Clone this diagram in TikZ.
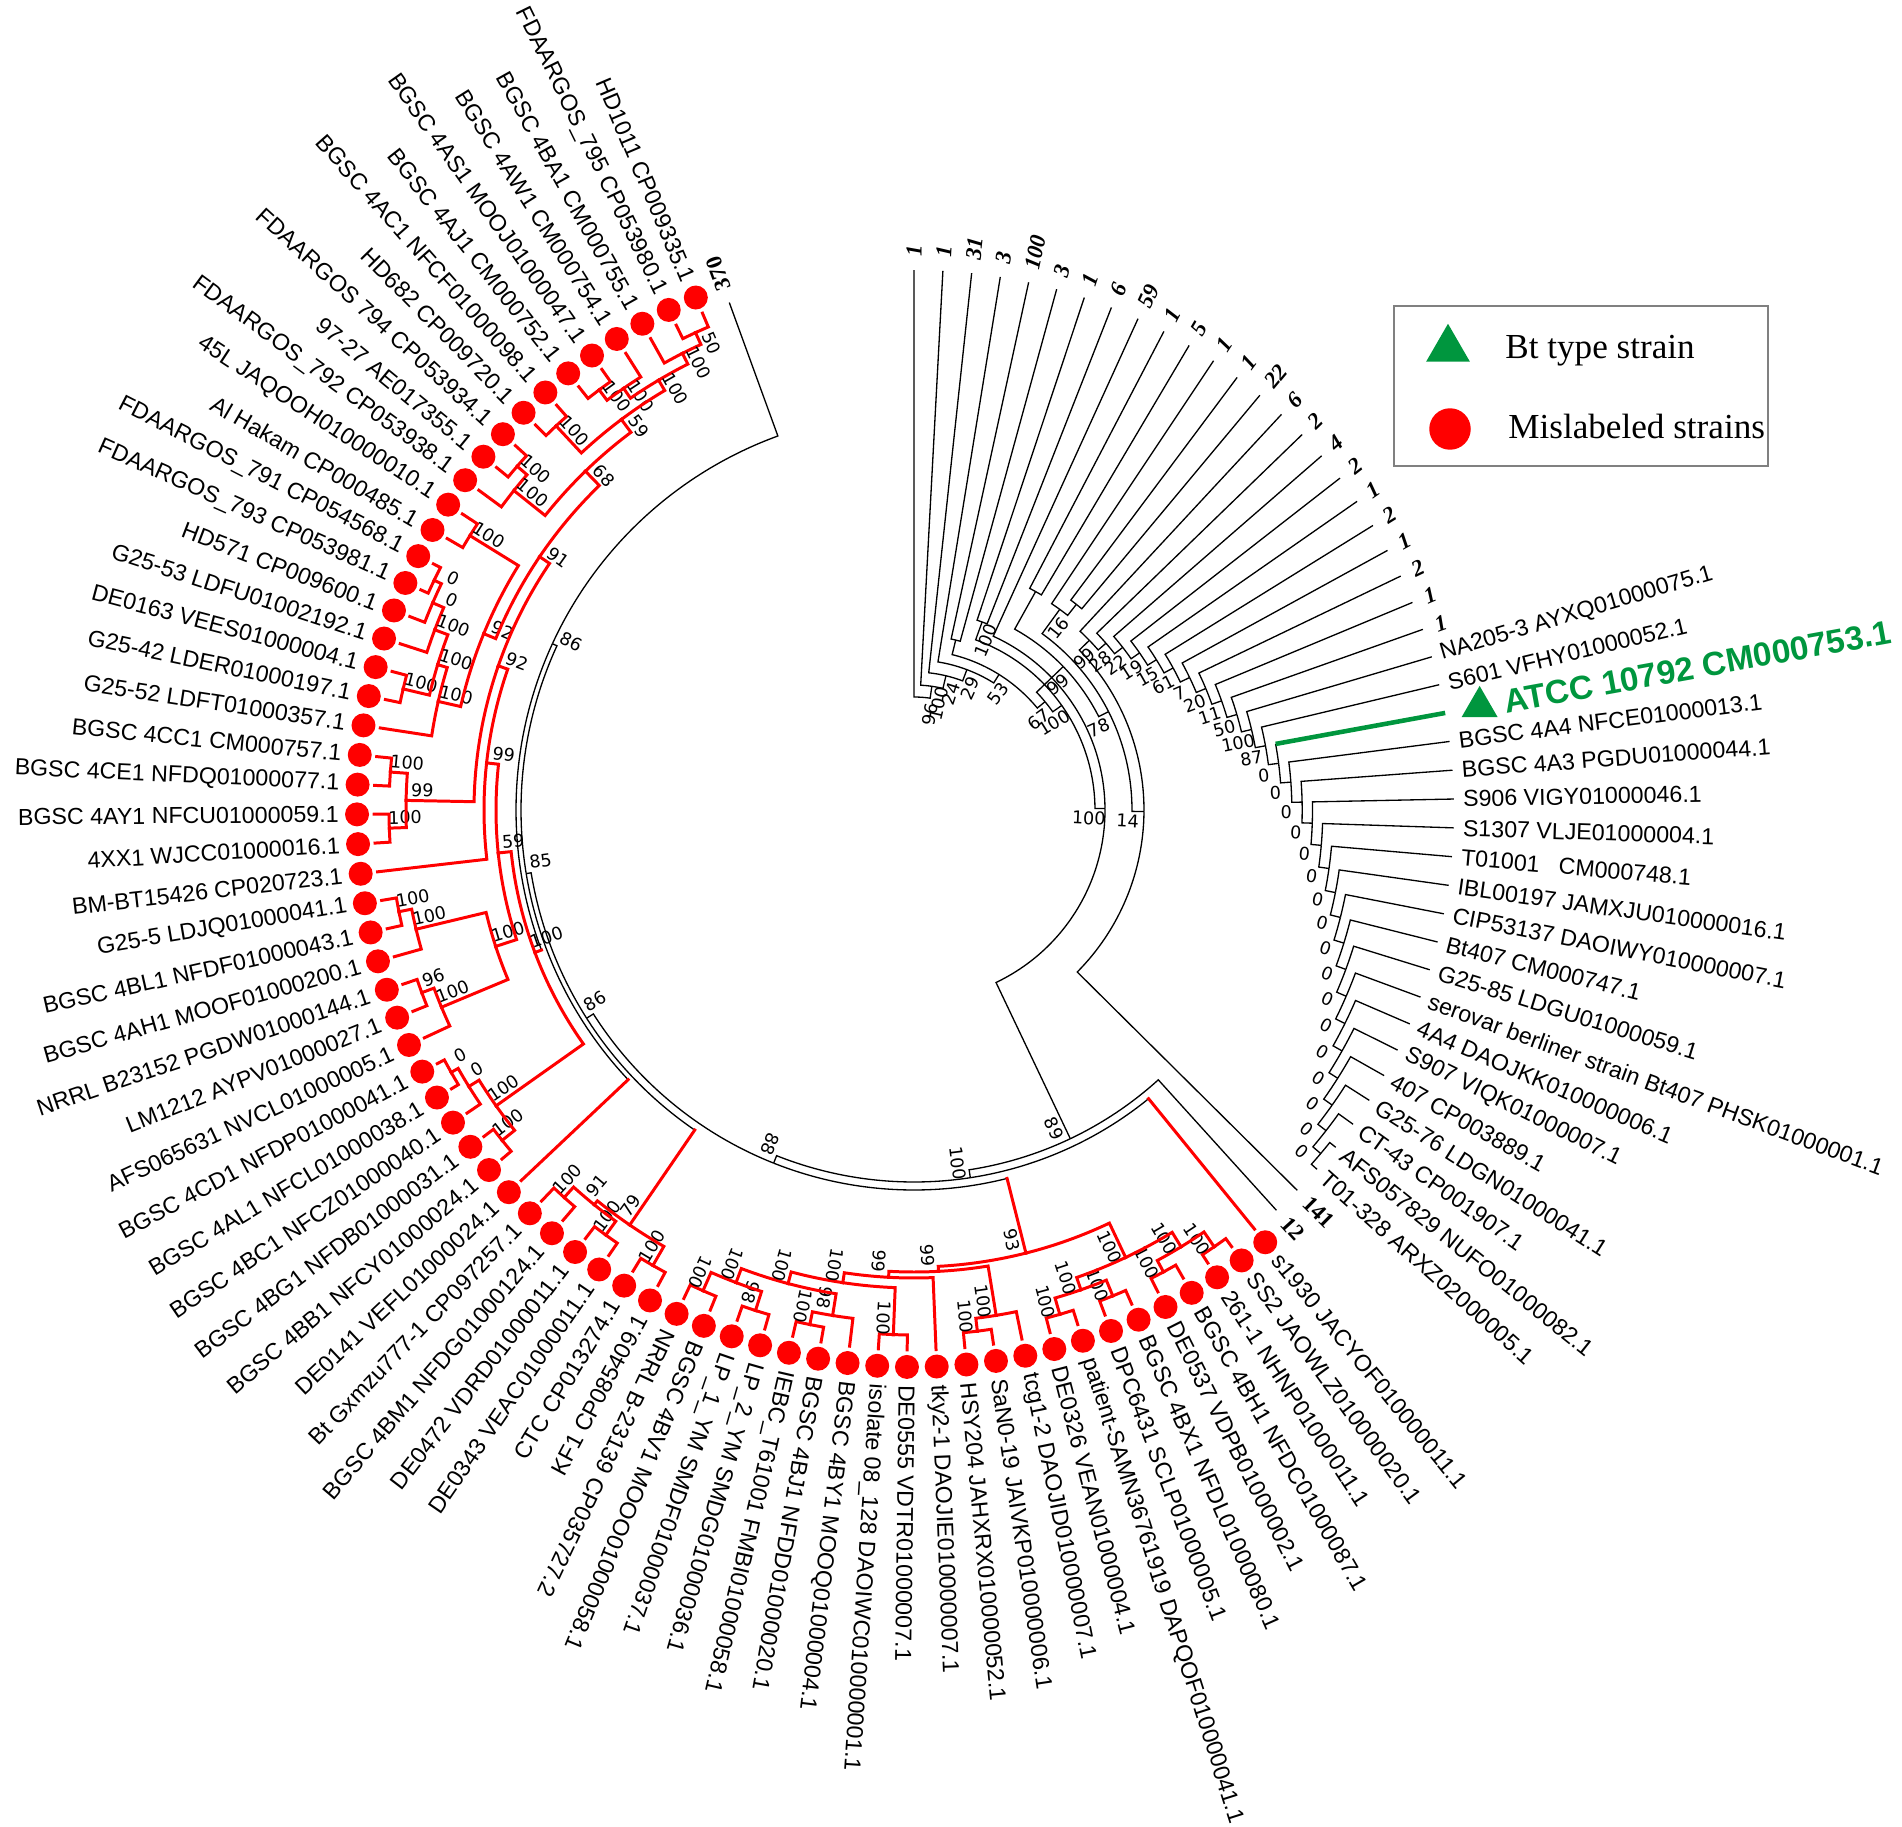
\documentclass[tikz,border=0pt]{standalone}
\usepackage{fontspec}
\setmainfont{Liberation Sans}
\newfontfamily\numfont{Liberation Serif}
\newfontfamily\bootfont{DejaVu Sans}
\usetikzlibrary{shapes.geometric}
\definecolor{typegreen}{RGB}{0,150,62}
\definecolor{misred}{RGB}{255,0,0}
\def\slot#1{110+3.063*(#1)}
\newcount\bsn
\newcommand\setrot[1]{\def\an{west}\pgfmathsetmacro\rt{#1}%
  \ifdim#1pt>90pt\relax\ifdim#1pt<243.3pt\relax\pgfmathsetmacro\rt{#1-180}\def\an{east}\fi\fi}
\newcommand\br[5][kb]{\draw[#1] ({\slot{#2}}:#3) arc[start angle={\slot{#2}},end angle={\slot{#4}},radius=#3] -- ({\slot{#4}}:#5);}
\newcommand\brx[6][kb]{\draw[#1] ({\slot{#3}}:#4) arc[start angle={\slot{#3}},end angle={\slot{#5}},radius=#4];
  \draw[#2] ({\slot{#5}}:#4) -- ({\slot{#5}}:#6);}
\newcommand\bs[3]{\global\advance\bsn by 1\relax\edef\bsname{bs\the\bsn}%
  \pgfmathsetmacro\bb{\slot{#1}-600/(#2)}\pgfmathsetmacro\bm{mod(\bb,360)}\setrot{\bm}%
  \node[bsl,rotate=\rt] (\bsname) at ({\bb}:{#2-16}) {#3};}
\newcommand\nd[8][rb]{\br[#1]{#2}{#3}{#4}{#5}\br[#1]{#2}{#3}{#6}{#7}\bs{#2}{#3}{#8}}

\begin{document}
\begin{tikzpicture}[x=0.02cm,y=0.02cm,
  kb/.style={black,line width=0.75pt},
  rb/.style={misred,line width=1.7pt,line cap=rect},
  gb/.style={typegreen,line width=2.6pt},
  lab/.style={font=\fontsize{13.2}{15}\selectfont,inner sep=0pt},
  bsl/.style={font=\bootfont\fontsize{10}{11}\selectfont,inner sep=0pt},
  cnt/.style={font=\numfont\bfseries\itshape\fontsize{13}{14}\selectfont,inner sep=0pt},
  rdot/.style={circle,fill=misred,minimum size=0.48cm,inner sep=0pt}]
\useasboundingbox (-914,-1016) rectangle (988,810);

% inner black part
\nd[kb]{109.66}{113}{111}{540}{108.32}{125}{96}
\nd[kb]{108.32}{125}{110}{540}{106.63}{138}{100}
\nd[kb]{106.63}{138}{109}{540}{104.26}{150}{24}
\nd[kb]{104.26}{150}{108}{540}{100.52}{160}{29}
\nd[kb]{100.52}{160}{94.54}{170}{106.5}{175}{53}
\nd[kb]{106.5}{175}{106}{540}{107}{540}{}
\nd[kb]{94.54}{170}{93.14}{181}{95.94}{207}{67}
\nd[kb]{93.14}{181}{81.77}{191}{104.5}{200}{100}
\nd[kb]{104.5}{200}{104}{540}{105}{540}{100}
\nd[kb]{81.77}{191}{60.54}{364}{103}{540}{100}
\nd[kb]{95.94}{207}{90.375}{218}{101.5}{250}{99}
\nd[kb]{101.5}{250}{101}{540}{102}{540}{}
\nd[kb]{90.375}{218}{81.5}{230}{99.25}{248}{78}
\nd[kb]{99.25}{248}{98.5}{262}{100}{540}{16}
\nd[kb]{98.5}{262}{98}{540}{99}{540}{}
\nd[kb]{81.5}{230}{67}{540}{96}{244}{14}

% ladder of the Bt strains
\xdef\pk{68.5}
\br{68.5}{532.4}{68}{540}
\br{68.5}{532.4}{69}{540}
\foreach \j in {70,...,97} {
  \pgfmathsetmacro\nk{(\j+\pk)/2}
  \pgfmathsetmacro\nr{244+10.3*(97-\j)}
  \pgfmathsetmacro\cr{\nr+10.3}
  \br{\nk}{\nr}{\pk}{\cr}
  \ifnum\j=85 \brx{gb}{\nk}{\nr}{\j}{540}\else\br{\nk}{\nr}{\j}{540}\fi
  \xdef\pk{\nk}
}
\foreach \j/\t in {69/0,70/0,71/0,72/0,73/0,74/0,75/0,76/0,77/0,78/0,79/0,80/0,81/0,
    82/0,83/0,84/0,85/0,86/87,87/100,88/50,89/11,90/20,91/7,92/61,93/15,94/19,95/22,96/28,97/99} {
  \pgfmathsetmacro\nk{\j-1+pow(2,68-\j)}
  \pgfmathsetmacro\nr{244+10.3*(97-\j)}
  \bs{\nk}{\nr}{\t}
}

% backbone down to the mislabeled clade
\br{14.79}{398}{0}{540}
\brx{rb}{14.79}{398}{29.58}{405}
\bs{14.79}{398}{86}
\br{25.895}{393}{14.79}{398}
\brx{rb}{25.895}{393}{37}{540}
\bs{25.895}{393}{85}
\br{33.45}{388}{25.895}{393}
\brx{rb}{33.45}{388}{41}{503}
\bs{33.45}{388}{86}
\br{45.16}{380}{33.45}{388}
\brx{rb}{45.16}{380}{56.865}{457}
\bs{45.16}{380}{88}
\br{55.08}{372}{45.16}{380}
\brx{rb}{55.08}{372}{65}{540}
\bs{55.08}{372}{100}
\br{60.54}{364}{55.08}{372}
\br{60.54}{364}{66}{540}
\bs{60.54}{364}{89}

% mislabeled clade
\nd{1.5}{525}{1}{540}{2}{540}{50}
\nd{2.25}{512}{1.5}{525}{3}{540}{100}
\nd{5.5}{525}{5}{540}{6}{540}{100}
\nd{4.75}{512}{4}{540}{5.5}{525}{100}
\nd{3.5}{500}{2.25}{512}{4.75}{512}{100}
\nd{7.5}{525}{7}{540}{8}{540}{100}
\nd{5.5}{488}{3.5}{500}{7.5}{525}{59}
\nd{9.5}{525}{9}{540}{10}{540}{100}
\nd{10.25}{512}{9.5}{525}{11}{540}{100}
\nd{7.875}{472}{5.5}{488}{10.25}{512}{68}
\nd{12.5}{522}{12}{540}{13}{540}{100}
\nd{14.5}{532}{14}{540}{15}{540}{0}
\nd{15.25}{524}{14.5}{532}{16}{540}{0}
\nd{16.125}{512}{15.25}{524}{17}{540}{100}
\nd{18.5}{525}{18}{540}{19}{540}{100}
\nd{17.3125}{498}{16.125}{512}{18.5}{525}{100}
\nd{18.656}{488}{17.3125}{498}{20}{540}{100}
\nd{15.578}{465}{12.5}{522}{18.656}{488}{92}
\nd{11.727}{452}{7.875}{472}{15.578}{465}{91}
\nd{21.5}{525}{21}{540}{22}{540}{100}
\nd{23.5}{525}{23}{540}{24}{540}{100}
\nd{22.5}{508}{21.5}{525}{23.5}{525}{99}
\nd{16.61}{440}{11.727}{452}{22.5}{508}{92}
\nd{20.8}{430}{16.61}{440}{25}{540}{99}
\nd{26.5}{525}{26}{540}{27}{540}{100}
\nd{27.25}{512}{26.5}{525}{28}{540}{100}
\nd{29.5}{525}{29}{540}{30}{540}{96}
\nd{30.25}{512}{29.5}{525}{31}{540}{100}
\nd{28.75}{440}{27.25}{512}{30.25}{512}{100}
\nd{24.78}{418}{20.8}{430}{28.75}{440}{59}
\nd{32.5}{532}{32}{540}{33}{540}{0}
\nd{33.25}{524}{32.5}{532}{34}{540}{0}
\nd{35.5}{528}{35}{540}{36}{540}{100}
\nd{34.375}{512}{33.25}{524}{35.5}{528}{100}
\nd{29.58}{405}{24.78}{418}{34.375}{512}{100}
\nd{38.5}{522}{38}{540}{39}{540}{100}
\nd{40.5}{525}{40}{540}{41}{540}{100}
\nd{39.5}{508}{38.5}{522}{40.5}{525}{91}
\nd{42.5}{525}{42}{540}{43}{540}{100}
\nd{41}{503}{39.5}{508}{42.5}{525}{79}
\nd{44.5}{525}{44}{540}{45}{540}{100}
\nd{46.5}{525}{46}{540}{47}{540}{98}
\nd{45.5}{505}{44.5}{525}{46.5}{525}{100}
\nd{48.5}{525}{48}{540}{49}{540}{100}
\nd{49.25}{512}{48.5}{525}{50}{540}{98}
\nd{47.375}{490}{45.5}{505}{49.25}{512}{100}
\nd{51.5}{525}{51}{540}{52}{540}{100}
\nd{49.44}{478}{47.375}{490}{51.5}{525}{100}
\nd{51.22}{468}{49.44}{478}{53}{540}{99}
\nd{54.5}{525}{54}{540}{55}{540}{100}
\nd{55.25}{512}{54.5}{525}{56}{540}{100}
\nd{53.23}{462}{51.22}{468}{55.25}{512}{99}
\nd{57.5}{525}{57}{540}{58}{540}{100}
\nd{59.5}{525}{59}{540}{60}{540}{100}
\nd{58.5}{508}{57.5}{525}{59.5}{525}{100}
\nd{61.5}{525}{61}{540}{62}{540}{100}
\nd{63.5}{530}{63}{540}{64}{540}{100}
\nd{62.5}{512}{61.5}{525}{63.5}{530}{100}
\nd{60.5}{495}{58.5}{508}{62.5}{512}{100}
\nd{56.865}{457}{53.23}{462}{60.5}{495}{93}

% red leaves
\foreach \k/\nm in {1/HD1011 CP009335.1, 2/FDAARGOS\_795 CP053980.1, 3/BGSC 4BA1 CM000755.1,
    4/BGSC 4AW1 CM000754.1, 5/BGSC 4AS1 MOOJ01000047.1, 6/BGSC 4AJ1 CM000752.1,
    7/BGSC 4AC1 NFCF01000098.1, 8/HD682 CP009720.1, 9/FDAARGOS 794 CP053934.1,
    10/97-27 AE017355.1, 11/FDAARGOS\_792 CP053938.1, 12/45L JAQOOH010000010.1,
    13/Al Hakam CP000485.1, 14/FDAARGOS\_791 CP054568.1, 15/FDAARGOS\_793 CP053981.1,
    16/HD571 CP009600.1, 17/G25-53 LDFU01002192.1, 18/DE0163 VEES01000004.1,
    19/G25-42 LDER01000197.1, 20/G25-52 LDFT01000357.1, 21/BGSC 4CC1 CM000757.1,
    22/BGSC 4CE1 NFDQ01000077.1, 23/BGSC 4AY1 NFCU01000059.1, 24/4XX1 WJCC01000016.1,
    25/BM-BT15426 CP020723.1, 26/G25-5 LDJQ01000041.1, 27/BGSC 4BL1 NFDF01000043.1,
    28/BGSC 4AH1 MOOF01000200.1, 29/NRRL B23152 PGDW01000144.1, 30/LM1212 AYPV01000027.1,
    31/AFS065631 NVCL01000005.1, 32/BGSC 4CD1 NFDP01000041.1, 33/BGSC 4AL1 NFCL01000038.1,
    34/BGSC 4BC1 NFCZ01000040.1, 35/BGSC 4BG1 NFDB01000031.1, 36/BGSC 4BB1 NFCY01000024.1,
    37/DE0141 VEFL01000024.1, 38/Bt Gxmzu777-1 CP097257.1, 39/BGSC 4BM1 NFDG01000124.1,
    40/DE0472 VDRD01000011.1, 41/DE0343 VEAC01000011.1, 42/CTC CP013274.1,
    43/KF1 CP085409.1, 44/NRRL B-23139 CP035727.2, 45/BGSC 4BV1 MOOO01000058.1,
    46/LP\_1\_YM SMDF01000037.1, 47/LP\_2\_YM SMDG01000036.1, 48/IEBC\_T61001 FMBI01000058.1,
    49/BGSC 4BJ1 NFDD01000020.1, 50/BGSC 4BY1 MOOQ01000004.1,
    51/isolate 08\_128 DAOIWC010000001.1, 52/DE0555 VDTR01000007.1,
    53/tky2-1 DAOJIE010000007.1, 54/HSY204 JAHXRX010000052.1, 55/SaN0-19 JAIVKP010000006.1,
    56/tcg1-2 DAOJID010000007.1, 57/DE0326 VEAN01000004.1,
    58/patient-SAMN36761919 DAPQOF010000041.1, 59/DPC6431 SCLP01000005.1,
    60/BGSC 4BX1 NFDL01000080.1, 61/DE0537 VDPB01000002.1, 62/BGSC 4BH1 NFDC01000087.1,
    63/261-1 NHNP01000011.1, 64/SS2 JAOWLZ010000020.1, 65/s1930 JACYOF010000011.1} {
  \pgfmathsetmacro\la{\slot{\k}}
  \setrot{\la}
  \node[rdot] (d\k) at (\la:557) {};
  \node[lab,rotate=\rt,anchor=\an] (l\k) at (\la:575) {\nm};
}

% black leaves
\foreach \k/\nm in {68/T01-328 ARXZ02000005.1, 69/AFS057829 NUFO01000082.1, 70/CT-43 CP001907.1,
    71/G25-76 LDGN01000041.1, 72/407 CP003889.1, 73/S907 VIQK01000007.1,
    74/4A4 DAOJKK010000006.1, 75/serovar berliner strain Bt407 PHSK01000001.1,
    76/G25-85 LDGU01000059.1, 77/Bt407 CM000747.1, 78/CIP53137 DAOIWY010000007.1,
    79/IBL00197 JAMXJU010000016.1, 80/T01001~~ CM000748.1, 81/S1307 VLJE01000004.1,
    82/S906 VIGY01000046.1, 83/BGSC 4A3 PGDU01000044.1, 84/BGSC 4A4 NFCE01000013.1,
    86/S601 VFHY01000052.1, 87/NA205-3 AYXQ01000075.1} {
  \pgfmathsetmacro\la{\slot{\k}}
  \node[lab,rotate=\la,anchor=west] (l\k) at (\la:549) {\nm};
}

% collapsed groups
\foreach \k/\n in {88/1,89/1,90/2,91/1,92/2,93/1,94/2,95/4,96/2,97/6,98/22,99/1,100/1,
    101/5,102/1,103/59,104/6,105/1,106/3,107/100,108/3,109/31,110/1,111/1} {
  \pgfmathsetmacro\la{\slot{\k}}
  \node[cnt,rotate=\la,anchor=west] (c\k) at (\la:553) {\n};
}
\foreach \k/\n in {0/370,66/12,67/141} {
  \pgfmathsetmacro\la{\slot{\k}}
  \node[cnt,font=\numfont\bfseries\fontsize{13}{14}\selectfont,rotate=\la,anchor=west] (c\k) at (\la:553) {\n};
}

% type strain
\node[regular polygon,regular polygon sides=3,fill=typegreen,inner sep=0pt,minimum size=0.83cm] (atcc) at ({\slot{85}}:575) {};
\node[anchor=west,rotate={\slot{85}},text=typegreen,font=\bfseries\fontsize{19}{21}\selectfont,inner sep=0pt] (l85) at ({\slot{85}}:600) {ATCC 10792 CM000753.1};

% legend
\draw[gray,line width=0.8pt] (480,504) rectangle (854,344);
\node[regular polygon,regular polygon sides=3,fill=typegreen,inner sep=0pt,minimum size=1.01cm] (legtri) at (534,461) {};
\node[circle,fill=misred,minimum size=0.83cm,inner sep=0pt] (legdot) at (536,381) {};
\node[anchor=base west,font=\numfont\fontsize{20}{22}\selectfont,inner sep=0pt] (legtxt1) at (591,451) {Bt type strain};
\node[anchor=base west,font=\numfont\fontsize{20}{22}\selectfont,inner sep=0pt] (legtxt2) at (594,372) {Mislabeled strains};
\end{tikzpicture}
\end{document}
